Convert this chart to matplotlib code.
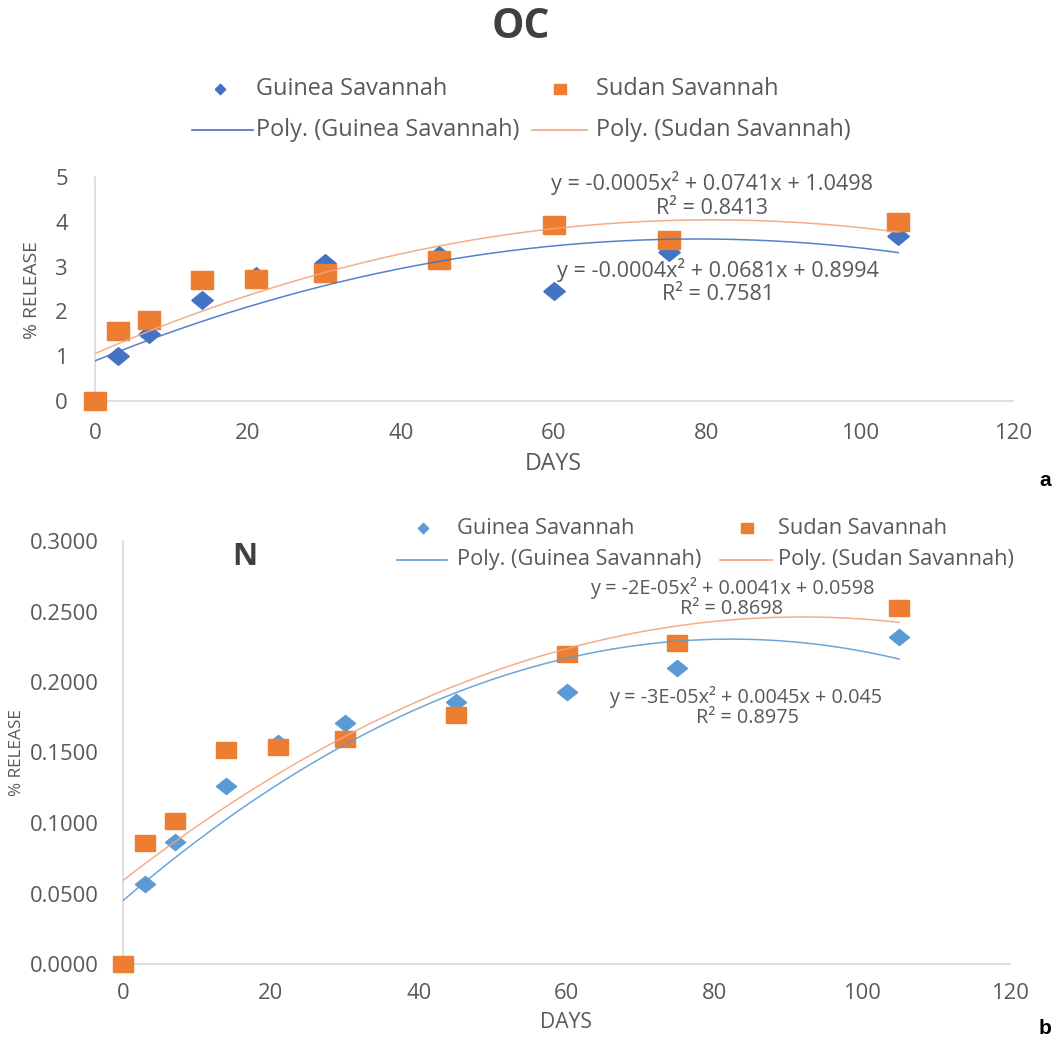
import numpy as np
import matplotlib
matplotlib.use("Agg")
import matplotlib.pyplot as plt
from matplotlib.lines import Line2D
from matplotlib.ticker import FormatStrFormatter
from matplotlib.font_manager import FontProperties

FAM = ['Open Sans', 'DejaVu Sans']
plt.rcParams['font.family'] = FAM

# ---------------- data ----------------
days = [0, 3, 7, 14, 21, 30, 45, 60, 75, 105]
oc_guinea = [0, 1.00, 1.50, 2.25, 2.80, 3.07, 3.27, 2.46, 3.33, 3.68]
oc_sudan = [0, 1.56, 1.80, 2.69, 2.72, 2.85, 3.14, 3.92, 3.60, 4.00]
n_guinea = [0, 0.0567, 0.0867, 0.1262, 0.1570, 0.1710, 0.1860, 0.1930, 0.2100, 0.2320]
n_sudan = [0, 0.0860, 0.1014, 0.1518, 0.1537, 0.1594, 0.1766, 0.2199, 0.2274, 0.2523]
series_names = ['Guinea Savannah', 'Sudan Savannah']
trend_names = ['Poly. (Guinea Savannah)', 'Poly. (Sudan Savannah)']
oc_eq_sudan = ['y = -0.0005x² + 0.0741x + 1.0498', 'R² = 0.8413']
oc_eq_guinea = ['y = -0.0004x² + 0.0681x + 0.8994', 'R² = 0.7581']
n_eq_sudan = ['y = -2E-05x² + 0.0041x + 0.0598', 'R² = 0.8698']
n_eq_guinea = ['y = -3E-05x² + 0.0045x + 0.045', 'R² = 0.8975']
x_ticks = [0, 20, 40, 60, 80, 100, 120]
oc_y_ticks = [0, 1, 2, 3, 4, 5]
n_y_ticks = [0, 0.05, 0.10, 0.15, 0.20, 0.25, 0.30]

# ---------------- style ----------------
W, H = 1055, 1038
TXT = '#595959'
AXC = '#D9D9D9'
ORANGE = '#ED7D31'
ORANGE_TR = '#F4A57A'
BLUE_TOP = '#4472C4'
BLUE_BOT = '#5B9BD5'

fig = plt.figure(figsize=(W / 100, H / 100), dpi=100)
renderer = fig.canvas.get_renderer()


def fit(s, target_px, weight='normal', family=None):
    """font size (pt) so that string s is target_px wide"""
    fp = FontProperties(family=family or FAM, size=10, weight=weight)
    w, h, d = renderer.get_text_width_height_descent(s, fp, ismath=False)
    return 10.0 * target_px / w


def fx(x):
    return x / W


def fy(y):
    return 1 - y / H


def rect_marker(ratio):
    return [(-1, -1 / ratio), (1, -1 / ratio), (1, 1 / ratio), (-1, 1 / ratio), (-1, -1 / ratio)]


def diamond_marker(ratio):
    return [(-1, 0), (0, 1 / ratio), (1, 0), (0, -1 / ratio), (-1, 0)]


def px_axes(l, r, t, b):
    return fig.add_axes([l / W, 1 - b / H, (r - l) / W, (b - t) / H])


def style_axes(ax, tick_fs):
    for s in ['top', 'right']:
        ax.spines[s].set_visible(False)
    for s in ['left', 'bottom']:
        ax.spines[s].set_color(AXC)
        ax.spines[s].set_linewidth(1.2)
    ax.tick_params(length=0, colors=TXT, labelsize=tick_fs)
    ax.set_xlim(0, 120)
    ax.set_xticks(x_ticks)


def trend(ax, x, y, color, lw=1.1):
    c = np.polyfit(x, y, 2)
    xs = np.linspace(min(x), max(x), 300)
    ax.plot(xs, np.polyval(c, xs), color=color, lw=lw, zorder=4, alpha=0.9)


def legend_manual(rows, fs):
    # rows: list of (kind, x_handle(s), y, text_left, label, color, size)
    for kind, hx, y, tx, label, color, size in rows:
        if kind == 'line':
            fig.add_artist(Line2D([fx(hx[0]), fx(hx[1])], [fy(y), fy(y)],
                                  transform=fig.transFigure, color=color, lw=1.2))
        else:
            marker = diamond_marker(1.0) if kind == 'diamond' else rect_marker(1.2)
            fig.add_artist(Line2D([fx(hx)], [fy(y)], transform=fig.transFigure,
                                  ls='none', marker=marker, ms=size, color=color))
        fig.text(fx(tx), fy(y), label, ha='left', va='center', fontsize=fs, color=TXT)


# ---------------- top panel (OC) ----------------
ax1 = px_axes(95, 1013, 177, 401)
style_axes(ax1, fit('120', 38))
ax1.set_ylim(0, 5)
ax1.set_yticks(oc_y_ticks)
ax1.tick_params(axis='y', pad=19.5)
ax1.tick_params(axis='x', pad=16.0)

ax1.plot(days, oc_guinea, ls='none', marker=diamond_marker(1.22), ms=15.5,
         color=BLUE_TOP, mec=BLUE_TOP, zorder=3, clip_on=False)
ax1.plot(days, oc_sudan, ls='none', marker=rect_marker(1.25), ms=15.5,
         color=ORANGE, mec=ORANGE, zorder=3, clip_on=False)
trend(ax1, days, oc_guinea, BLUE_TOP)
trend(ax1, days, oc_sudan, ORANGE_TR)

eq_top_fs = fit(oc_eq_sudan[0], 322)
fig.text(fx(712), fy(183), oc_eq_sudan[0], ha='center', va='center', fontsize=eq_top_fs, color=TXT)
fig.text(fx(712), fy(208), oc_eq_sudan[1], ha='center', va='center', fontsize=eq_top_fs, color=TXT)
fig.text(fx(718), fy(270), oc_eq_guinea[0], ha='center', va='center', fontsize=eq_top_fs, color=TXT)
fig.text(fx(718), fy(294), oc_eq_guinea[1], ha='center', va='center', fontsize=eq_top_fs, color=TXT)

fig.text(fx(553), fy(464), 'DAYS', ha='center', va='center', fontsize=fit('DAYS', 57), color=TXT)
fig.text(fx(32), fy(290), '% RELEASE', ha='center', va='center', rotation=90,
         fontsize=fit('% RELEASE', 98), color=TXT)

fig.text(fx(521), fy(28), 'OC', ha='center', va='center', fontsize=fit('OC', 58, 'bold'),
         fontweight='bold', color='#404040')

leg_top_fs = fit(trend_names[1], 254)
legend_manual([
    ('diamond', 220, 89, 256, series_names[0], BLUE_TOP, 7.5),
    ('square', 560, 89, 596, series_names[1], ORANGE, 9),
    ('line', (192, 253), 130, 256, trend_names[0], BLUE_TOP, None),
    ('line', (532, 587), 130, 596, trend_names[1], ORANGE_TR, None),
], leg_top_fs)

# ---------------- bottom panel (N) ----------------
ax2 = px_axes(123, 1010, 541, 964)
style_axes(ax2, fit('0.1000', 69))
ax2.set_ylim(0, 0.3)
ax2.set_yticks(n_y_ticks)
ax2.yaxis.set_major_formatter(FormatStrFormatter('%.4f'))
ax2.tick_params(axis='y', pad=17.3)
ax2.tick_params(axis='x', pad=13.7)

ax2.plot(days, n_guinea, ls='none', marker=diamond_marker(1.25), ms=14.5,
         color=BLUE_BOT, mec=BLUE_BOT, zorder=3, clip_on=False)
ax2.plot(days, n_sudan, ls='none', marker=rect_marker(1.33), ms=14.5,
         color=ORANGE, mec=ORANGE, zorder=3, clip_on=False)
trend(ax2, days, n_guinea, BLUE_BOT)
trend(ax2, days, n_sudan, ORANGE_TR)

eq_bot_fs = fit(n_eq_sudan[0], 285)
fig.text(fx(732), fy(588), n_eq_sudan[0], ha='center', va='center', fontsize=eq_bot_fs, color=TXT)
fig.text(fx(732), fy(609), n_eq_sudan[1], ha='center', va='center', fontsize=eq_bot_fs, color=TXT)
fig.text(fx(746), fy(697), n_eq_guinea[0], ha='center', va='center', fontsize=eq_bot_fs, color=TXT)
fig.text(fx(747), fy(718), n_eq_guinea[1], ha='center', va='center', fontsize=eq_bot_fs, color=TXT)

fig.text(fx(566), fy(1023), 'DAYS', ha='center', va='center', fontsize=fit('DAYS', 52), color=TXT)
fig.text(fx(17), fy(753), '% RELEASE', ha='center', va='center', rotation=90,
         fontsize=fit('% RELEASE', 87), color=TXT)

fig.text(fx(245), fy(557), 'N', ha='center', va='center', fontsize=fit('N', 25, 'bold'),
         fontweight='bold', color='#404040')

leg_bot_fs = fit(trend_names[1], 235)
legend_manual([
    ('diamond', 423, 528, 457, series_names[0], BLUE_BOT, 7.5),
    ('square', 747, 528, 778, series_names[1], ORANGE, 9),
    ('line', (397, 447), 560, 457, trend_names[0], BLUE_BOT, None),
    ('line', (720, 772), 560, 778, trend_names[1], ORANGE_TR, None),
], leg_bot_fs)

# panel letters
fig.text(fx(1045), fy(481), 'a', ha='center', va='center', fontsize=15,
         fontweight='bold', color='black', family=['Liberation Sans', 'DejaVu Sans'])
fig.text(fx(1045), fy(1028), 'b', ha='center', va='center', fontsize=15,
         fontweight='bold', color='black', family=['Liberation Sans', 'DejaVu Sans'])

fig.savefig('out.png', dpi=100)
